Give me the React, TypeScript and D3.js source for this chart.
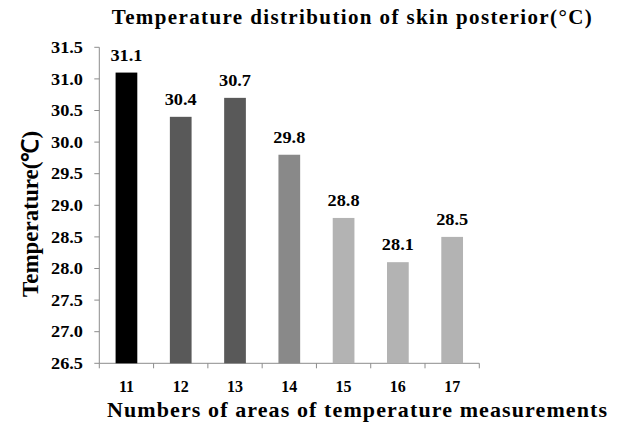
import React from "react";
import * as d3 from "d3";

const categories = ["11", "12", "13", "14", "15", "16", "17"];
const values = [31.1, 30.4, 30.7, 29.8, 28.8, 28.1, 28.5];
const barColors = ["#000000", "#595959", "#595959", "#898989", "#b3b3b3", "#b3b3b3", "#b3b3b3"];
const yTicks = [26.5, 27.0, 27.5, 28.0, 28.5, 29.0, 29.5, 30.0, 30.5, 31.0, 31.5];

const W = 617;
const H = 430;
const left = 99.3;
const right = 479.3;
const top = 47.3;
const bottom = 363.3;
const font = "'Liberation Serif', 'Times New Roman', serif";

export default function App() {
  const x = d3.scaleBand<string>().domain(categories).range([left, right]).paddingInner(0.6).paddingOuter(0.3);
  const xb = d3.scaleBand<string>().domain(categories).range([left, right]);
  const y = d3.scaleLinear().domain([26.5, 31.5]).range([bottom, top]);
  const axisColor = "#8c8c8c";

  return (
    <svg width={W} height={H} style={{ position: "absolute", left: 0, top: 0, background: "#fff" }} fontFamily={font}>
      <rect width={W} height={H} fill="#fff" />
      <text x={351.7} y={24} textAnchor="middle" fontSize={21} fontWeight="bold" textLength={480} lengthAdjust="spacing">
        Temperature distribution of skin posterior(°C)
      </text>
      {/* y axis */}
      <line x1={left} x2={left} y1={top} y2={bottom} stroke={axisColor} strokeWidth={1} />
      {yTicks.map((t) => (
        <g key={t}>
          <line x1={left - 5} x2={left} y1={y(t)} y2={y(t)} stroke={axisColor} strokeWidth={1} />
          <text x={83} y={y(t)} dy="0.35em" textAnchor="end" fontSize={16} fontWeight="bold" textLength={32} lengthAdjust="spacingAndGlyphs">
            {t.toFixed(1)}
          </text>
        </g>
      ))}
      {/* x axis */}
      <line x1={left} x2={right} y1={bottom} y2={bottom} stroke={axisColor} strokeWidth={1} />
      {[...categories.map((c) => xb(c) as number), right].map((p, i) => (
        <line key={i} x1={p} x2={p} y1={bottom} y2={bottom + 5} stroke={axisColor} strokeWidth={1} />
      ))}
      {categories.map((c, i) => (
        <g key={c}>
          <rect x={x(c)} y={y(values[i])} width={x.bandwidth()} height={bottom - y(values[i])} fill={barColors[i]} />
          <text x={(x(c) as number) + x.bandwidth() / 2} y={y(values[i]) - 12} textAnchor="middle" fontSize={16} fontWeight="bold" textLength={32} lengthAdjust="spacingAndGlyphs">
            {values[i].toFixed(1)}
          </text>
          <text x={(xb(c) as number) + xb.bandwidth() / 2} y={392} textAnchor="middle" fontSize={16} fontWeight="bold">
            {c}
          </text>
        </g>
      ))}
      <text x={357} y={417} textAnchor="middle" fontSize={22} fontWeight="bold" textLength={500} lengthAdjust="spacing">
        Numbers of areas of temperature measurements
      </text>
      <text transform="translate(38,214) rotate(-90)" textAnchor="middle" fontSize={23} fontWeight="bold">
        Temperature(℃)
      </text>
    </svg>
  );
}
